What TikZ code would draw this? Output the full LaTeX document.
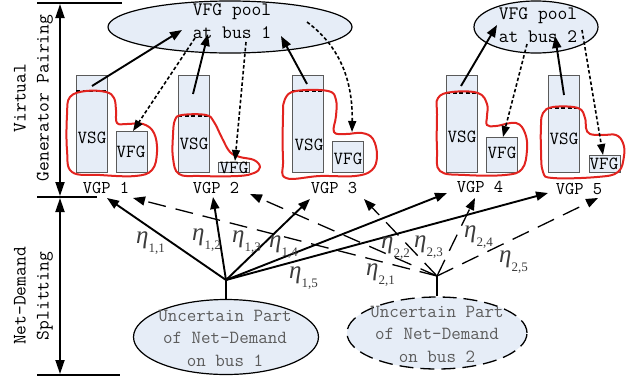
\documentclass[tikz,border=0pt]{standalone}
\usepackage{fontspec}
\newfontfamily\etafont{Liberation Serif}
\usetikzlibrary{arrows.meta,shapes.geometric}
\definecolor{boxfill}{HTML}{E6EDF7}
\definecolor{boxline}{HTML}{5A5A5A}
\definecolor{blobred}{HTML}{E2231F}
\definecolor{labgray}{HTML}{3C3C3C}
\definecolor{txtgray}{HTML}{5C5C5C}
\newcommand{\etalab}[1]{{\etafont\fontsize{25}{25}\selectfont\itshape η}{\etafont\fontsize{13}{13}\selectfont\raisebox{-9pt}{#1}}}
\tikzset{
  arr/.style={line width=1.9pt,-{Triangle[length=12pt,width=9pt]}},
  dotarr/.style={line width=1.6pt,dash pattern=on 3.5pt off 2.3pt,-{Triangle[length=11pt,width=8pt]}},
  dasharr/.style={line width=1.3pt,dash pattern=on 18pt off 10pt,-{Triangle[length=12pt,width=9pt]}},
  sidearr/.style={line width=1.8pt,{Triangle[length=14pt,width=9pt]}-{Triangle[length=14pt,width=9pt]}},
  rule/.style={line width=1.2pt},
  vsgbox/.style={draw=boxline,fill=boxfill,line width=0.9pt,minimum width=31pt,minimum height=97pt,inner sep=0pt,anchor=north west},
  vfgbox/.style={draw=boxline,fill=boxfill,line width=0.9pt,minimum width=31pt,inner sep=0pt,anchor=north west},
  midline/.style={line width=1.2pt,dash pattern=on 4pt off 2.5pt},
  blob/.style={draw=blobred,line width=2pt},
  pool/.style={ellipse,draw,fill=boxfill,line width=1.2pt,inner sep=0pt},
  mono/.style={font=\fontsize{19}{23}\selectfont\ttfamily,inner sep=0pt},
  boxtxt/.style={font=\fontsize{18.5}{20}\selectfont\ttfamily,inner sep=0pt},
  vgp/.style={font=\fontsize{18}{20}\selectfont\ttfamily,inner sep=0pt},
  graytxt/.style={font=\fontsize{18.5}{22.5}\selectfont\ttfamily,text=txtgray,align=center,inner sep=0pt,anchor=base},
  eta/.style={text=labgray,inner sep=0pt,anchor=base west},
}
\begin{document}
\begin{tikzpicture}[x=1pt,y=-1pt]
\useasboundingbox (0,0) rectangle (637,381);

% left scale
\draw[rule] (37,3) -- (122,3);
\draw[rule] (37,197) -- (97,197);
\draw[rule] (37,375) -- (120,375);
\coordinate (s1) at (60,4);
\coordinate (s2) at (60,196);
\coordinate (s3) at (60,198);
\coordinate (s4) at (60,374);
\draw[sidearr] (s1) -- (s2);
\draw[sidearr] (s3) -- (s4);
\node[mono,rotate=90,align=center] (vgplab) at (33.5,98) {Virtual\\Generator Pairing};
\node[mono,rotate=90,align=center] (ndslab) at (33.5,296) {Net-Demand\\Splitting};

% pools
\node[pool,minimum width=244pt,minimum height=52pt] (pool1) at (230,27) {};
\node[pool,minimum width=124pt,minimum height=52pt] (pool2) at (536,27) {};
\node[mono,align=center,anchor=base] (pool1t) at (232,38) {VFG pool\\at bus 1};
\node[mono,align=center,anchor=base] (pool2t) at (538,42) {VFG pool\\at bus 2};

% boxes
\node[vsgbox] (vsg1) at (76,75) {};
\node[vsgbox] (vsg2) at (178,75) {};
\node[vsgbox] (vsg3) at (292,75) {};
\node[vsgbox] (vsg4) at (446,75) {};
\node[vsgbox] (vsg5) at (548,75) {};
\node[vfgbox,minimum height=41pt] (vfg1) at (116,131) {};
\node[vfgbox,minimum height=10pt] (vfg2) at (218,162) {};
\node[vfgbox,minimum height=31pt] (vfg3) at (332,141) {};
\node[vfgbox,minimum height=35pt] (vfg4) at (486,137) {};
\node[vfgbox,minimum height=17pt] (vfg5) at (589,155) {};

\draw[midline] (76,91) -- (107,91);
\draw[midline] (178,116) -- (209,116);
\draw[midline] (292,91) -- (323,91);
\draw[midline] (446,93) -- (477,93);
\draw[midline] (548,108) -- (579,108);

\node[boxtxt] (vsg1t) at (92,138) {VSG};
\node[boxtxt] (vsg2t) at (194,144) {VSG};
\node[boxtxt] (vsg3t) at (309,145) {VSG};
\node[boxtxt] (vsg4t) at (462,137) {VSG};
\node[boxtxt] (vsg5t) at (564,139) {VSG};
\node[boxtxt] (vfg1t) at (131,152) {VFG};
\node[boxtxt] (vfg2t) at (234,168) {VFG};
\node[boxtxt] (vfg3t) at (348,159) {VFG};
\node[boxtxt] (vfg4t) at (502,153) {VFG};
\node[boxtxt] (vfg5t) at (604,164) {VFG};

% red loops
\draw[blob] plot[smooth cycle,tension=0.65] coordinates {(70,97) (86,91) (106,92) (114,98) (116,110) (117,123) (127,124) (143,124) (154,133) (157,152) (152,170) (135,176) (100,175) (72,172) (67,150) (67,115)};
\draw[blob] plot[smooth cycle,tension=0.65] coordinates {(175,120) (182,115) (206,115) (214,122) (222,138) (230,152) (240,157) (254,160) (260,167) (254,173) (238,176) (200,176) (179,174) (173,158) (173,135)};
\draw[blob] plot[smooth cycle,tension=0.65] coordinates {(285,99) (296,91) (328,91) (336,100) (336,116) (334,132) (346,134) (362,133) (373,139) (377,156) (372,170) (355,176) (320,176) (286,178) (283,160) (283,115)};
\draw[blob] plot[smooth cycle,tension=0.65] coordinates {(438,98) (452,92) (478,93) (487,104) (487,116) (487,125) (496,126) (516,123) (525,133) (527,150) (522,169) (505,175) (465,175) (440,171) (437,150) (437,115)};
\draw[blob] plot[smooth cycle,tension=0.65] coordinates {(543,113) (553,107) (578,108) (585,118) (586,128) (590,134) (603,135) (616,135) (623,143) (624,156) (618,172) (597,177) (553,178) (543,172) (541,150) (541,125)};

% VGP labels
\node[vgp] (vgp1) at (106,188) {VGP 1};
\node[vgp] (vgp2) at (216,188) {VGP 2};
\node[vgp] (vgp3) at (334,188) {VGP 3};
\node[vgp] (vgp4) at (480,187) {VGP 4};
\node[vgp] (vgp5) at (579,189) {VGP 5};

% top connectors
\coordinate (u1s) at (92,86);   \coordinate (u1e) at (182,30);
\coordinate (u2s) at (193,94);  \coordinate (u2e) at (208,34);
\coordinate (u3s) at (307,84);  \coordinate (u3e) at (281,36);
\coordinate (u4s) at (461,86);  \coordinate (u4e) at (497,25);
\coordinate (u5s) at (564,95);  \coordinate (u5e) at (555,36);
\draw[arr] (u1s) -- (u1e);
\draw[arr] (u2s) -- (u2e);
\draw[arr] (u3s) -- (u3e);
\draw[arr] (u4s) -- (u4e);
\draw[arr] (u5s) -- (u5e);

\coordinate (d1s) at (195,38);  \coordinate (d1e) at (133,131);
\coordinate (d2s) at (246,42);  \coordinate (d2e) at (235,161);
\coordinate (d3s) at (307,22);  \coordinate (d3e) at (352,132);
\coordinate (d4s) at (527,44);  \coordinate (d4e) at (503,137);
\coordinate (d5s) at (582,30);  \coordinate (d5e) at (603,155);
\draw[dotarr] (d1s) -- (d1e);
\draw[dotarr] (d2s) -- (d2e);
\draw[dotarr] (d3s) .. controls (338,45) and (353,78) .. (d3e);
\draw[dotarr] (d4s) -- (d4e);
\draw[dotarr] (d5s) -- (d5e);

% bottom pools
\node[pool,minimum width=185pt,minimum height=75pt] (pool3) at (226,337) {};
\node[pool,dash pattern=on 14pt off 7pt,line width=1.3pt,minimum width=180pt,minimum height=72pt] (pool4) at (437,333) {};
\node[graytxt] (pool3t) at (225,366) {Uncertain Part\\of Net-Demand\\on bus 1};
\node[graytxt] (pool4t) at (437,362) {Uncertain Part\\of Net-Demand\\on bus 2};

\coordinate (fan1) at (226,280);
\coordinate (fan2) at (437,276);
\draw[line width=1.8pt] (pool3.north) -- (fan1);
\draw[line width=1.8pt] (pool4.north) -- (fan2);

\coordinate (t21) at (133,198);
\coordinate (t22) at (250,194);
\coordinate (t23) at (364,199);
\coordinate (t24) at (475,198);
\coordinate (t25) at (598,198);
\draw[dasharr] (fan2) -- (t21);
\draw[dasharr] (fan2) -- (t22);
\draw[dasharr] (fan2) -- (t23);
\draw[dasharr] (fan2) -- (t24);
\draw[dasharr] (fan2) -- (t25);

\coordinate (t11) at (107,198);
\coordinate (t12) at (213,197);
\coordinate (t13) at (310,199);
\coordinate (t14) at (447,193);
\coordinate (t15) at (548,193);
\draw[arr] (fan1) -- (t11);
\draw[arr] (fan1) -- (t12);
\draw[arr] (fan1) -- (t13);
\draw[arr] (fan1) -- (t14);
\draw[arr] (fan1) -- (t15);

% eta labels
\node[eta] (e11) at (136,243) {\etalab{1,1}};
\node[eta] (e12) at (192,240) {\etalab{1,2}};
\node[eta] (e13) at (232,242) {\etalab{1,3}};
\node[eta] (e14) at (269,247) {\etalab{1,4}};
\node[eta] (e15) at (289,278) {\etalab{1,5}};
\node[eta] (e21) at (366,275) {\etalab{2,1}};
\node[eta] (e22) at (381,248) {\etalab{2,2}};
\node[eta] (e23) at (414,247) {\etalab{2,3}};
\node[eta] (e24) at (464,237) {\etalab{2,4}};
\node[eta] (e25) at (499,262) {\etalab{2,5}};
\end{tikzpicture}
\end{document}
